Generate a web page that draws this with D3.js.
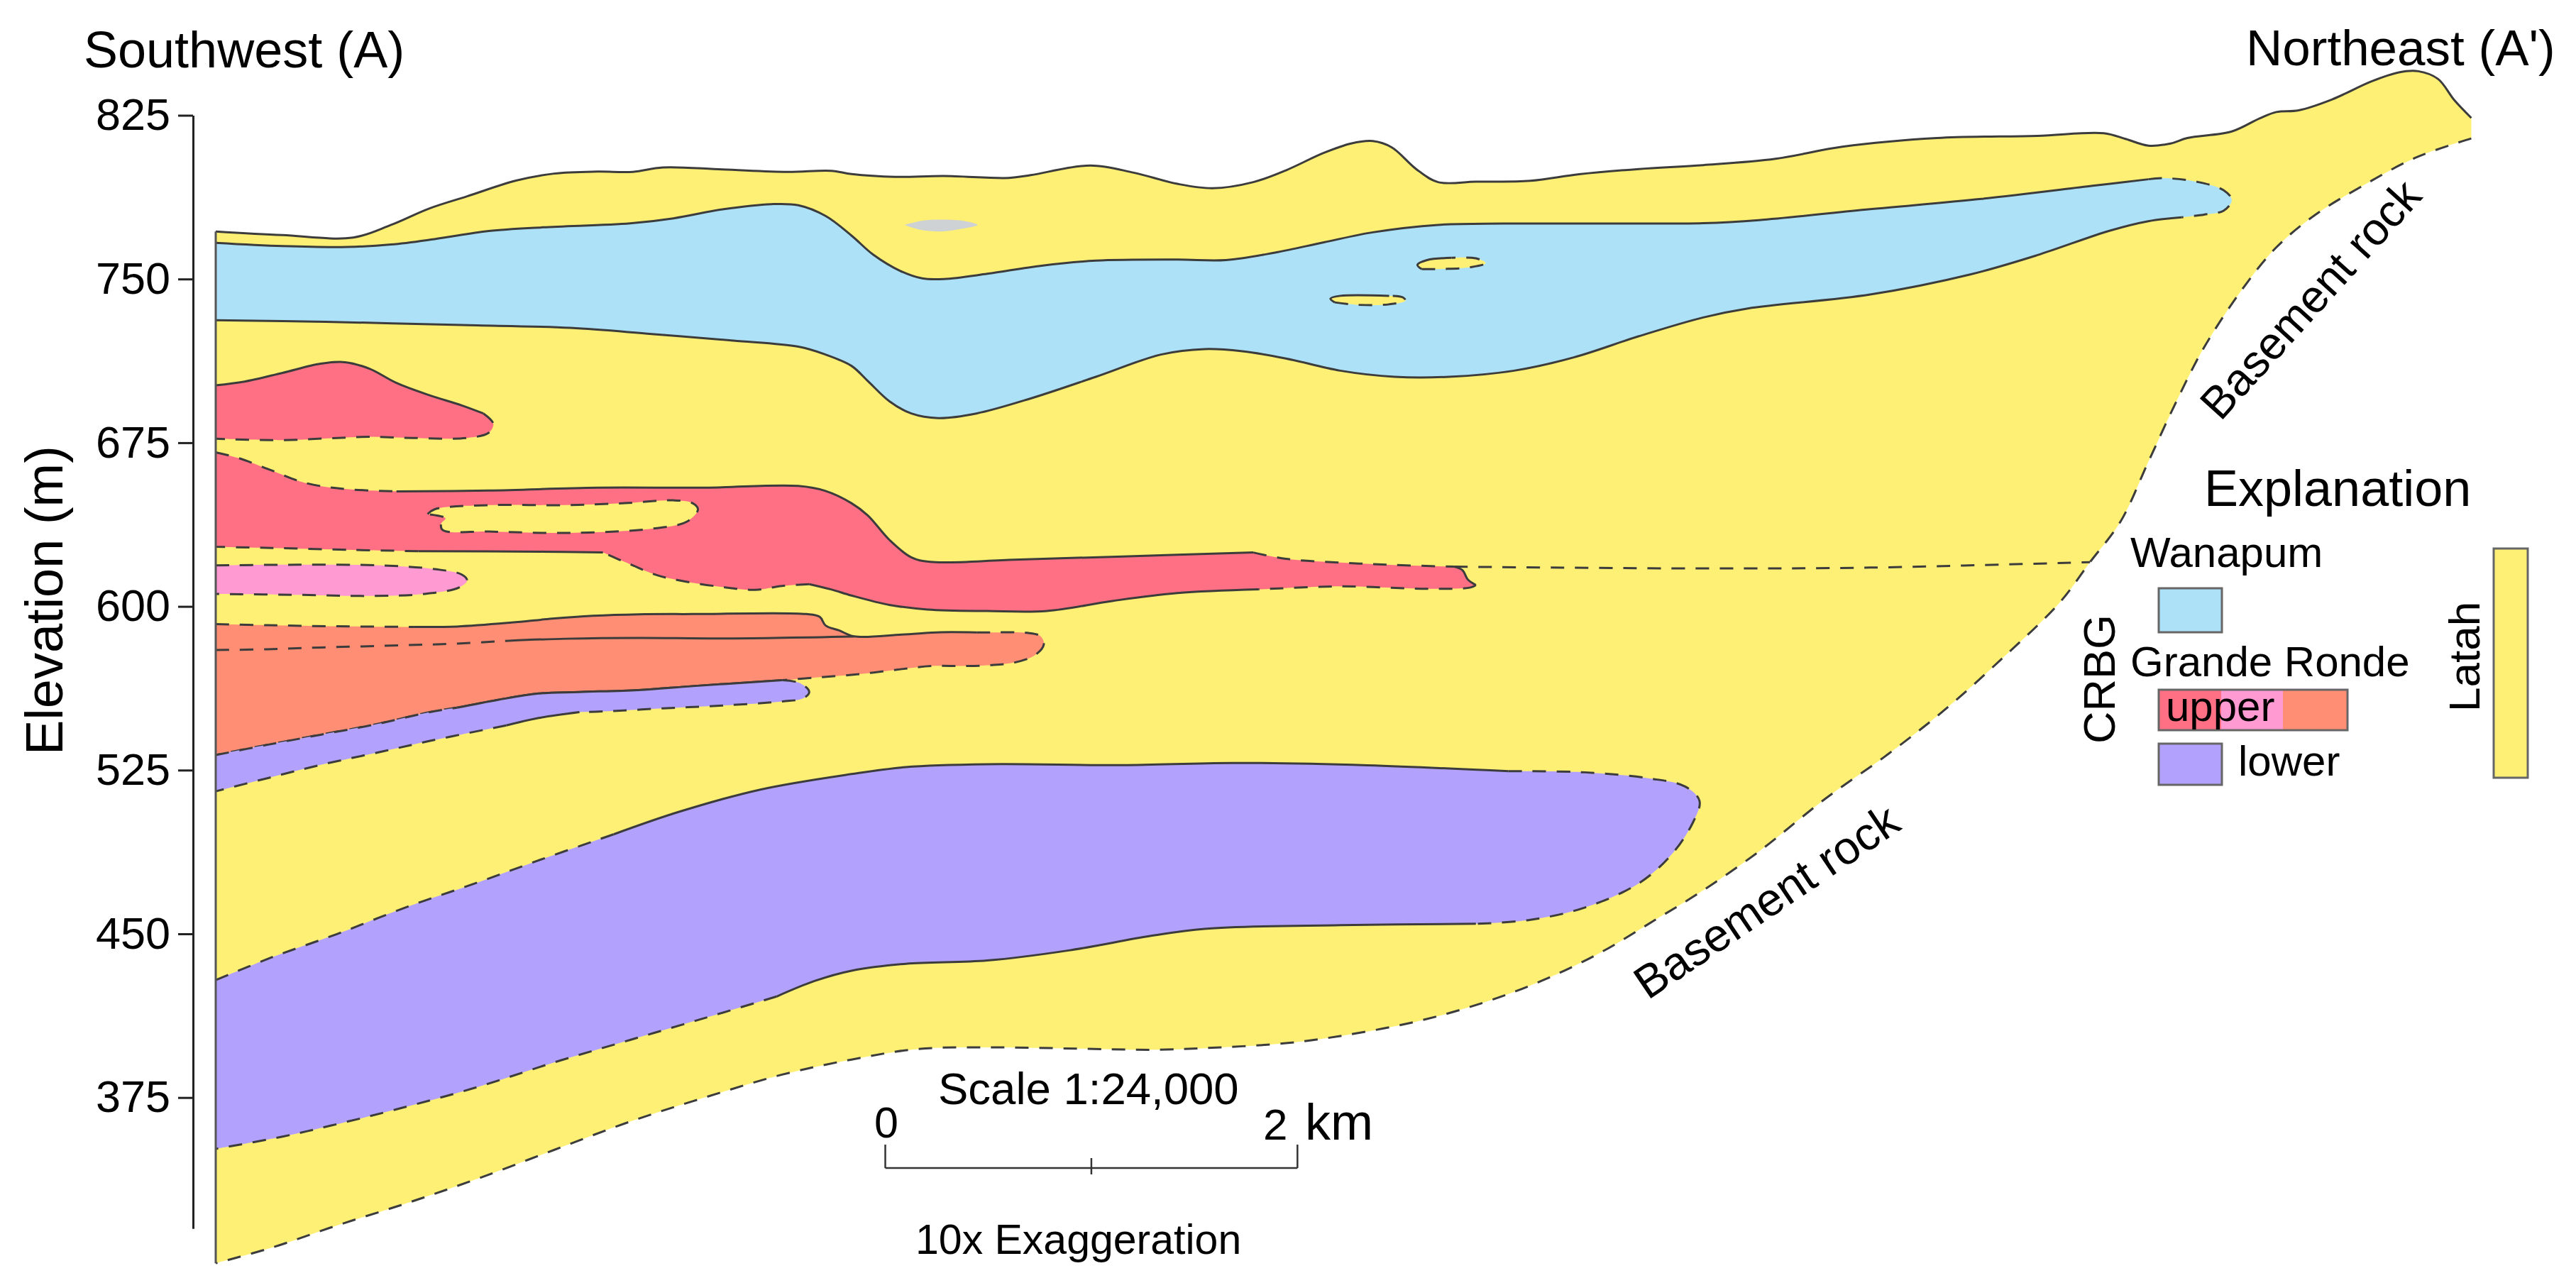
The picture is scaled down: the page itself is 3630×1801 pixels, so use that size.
<!DOCTYPE html>
<html>
<head>
<meta charset="utf-8">
<script src="https://cdn.jsdelivr.net/npm/d3@7"></script>
<style>
  html, body { margin: 0; padding: 0; background: #fff; }
  text { font-family: "Liberation Sans", Arial, sans-serif; fill: #000; }
</style>
</head>
<body>
<svg id="chart" width="3630" height="1801"></svg>
<script>
//Tick labels for elevation axis (m)
var elevationTicks = [825, 750, 675, 600, 525, 450, 375];

//All boundaries below are [distance along section in km, elevation in m]

//Ground surface
var groundSurface = [[0,771.8],[.324,770.1],[.667,769],[.851,774.8],[1.036,782.3],[1.22,787.9],[1.457,795.1],[1.642,798.3],[1.852,799.2],[2.024,799.1],[2.169,801.1],[2.459,800.2],[2.775,799.1],[2.986,799.6],[3.085,798.1],[3.296,796.8],[3.533,797.2],[3.849,796.3],[3.955,797.6],[4.244,802],[4.455,798.7],[4.666,793.6],[4.837,791.6],[5.035,794.4],[5.193,799.8],[5.377,807.8],[5.509,812.1],[5.615,813.2],[5.707,810.3],[5.825,800.4],[5.931,794.4],[6.115,794.6],[6.379,795],[6.616,798],[6.906,800.4],[7.218,802.2],[7.569,805.1],[7.893,810.6],[8.352,814.6],[8.838,815.6],[9.162,816.8],[9.27,814.1],[9.378,811.1],[9.486,812.1],[9.567,814.6],[9.783,817.6],[9.918,823.6],[9.999,826.5],[10.107,827.3],[10.27,832.3],[10.459,840.5],[10.594,844.7],[10.688,845.2],[10.783,841.7],[10.864,831.8],[10.945,823.8]];

//Basement contact, northeast end to southwest end
var basementContact = [[10.945,814.4],[10.675,805.6],[10.405,792],[10.189,779.5],[10,764.6],[9.838,745.9],[9.648,718.6],[9.513,693.7],[9.378,666.3],[9.243,638.9],[9.095,620.3],[8.946,601.6],[8.676,576.8],[8.379,551.8],[8.109,531.9],[7.812,512],[7.488,487.7],[7.217,469.9],[6.985,456.4],[6.721,441.5],[6.432,428.4],[6.142,418.2],[5.825,409.8],[5.457,403.2],[5.193,399.9],[4.877,398],[4.561,396.9],[4.192,397.4],[3.744,398],[3.401,397.2],[3.085,392.4],[2.748,385.5],[2.379,375.2],[2.011,364],[1.642,351],[1.273,337.9],[.93,326.7],[.588,316.4],[.271,306.2],[0,299.1]];

//Wanapum
var wanapumTop = [[0,766.6],[.324,765.1],[.64,764.7],[.851,765.8],[1.062,768.3],[1.325,772],[1.589,773.7],[2.011,775.5],[2.221,777.8],[2.459,781.9],[2.696,784.3],[2.827,783.8],[2.959,778.9],[3.085,769.9],[3.19,761.2],[3.322,753.7],[3.428,750.3],[3.533,750],[3.744,752.4],[4.007,756.1],[4.271,758.4],[4.666,758.9],[4.903,758.7],[5.14,762.1],[5.377,766.8],[5.615,771.4],[5.931,774.8],[6.247,775.4],[6.774,775.4],[7.218,775.6],[7.488,777],[8.028,782],[8.568,786.7],[9.108,792.7],[9.378,795.7]];
var wanapumTip = [[9.378,795.7],[9.459,796.2],[9.621,794.4],[9.743,790.7],[9.783,786.2],[9.743,781.3],[9.648,779.5],[9.54,778.3]];
var wanapumBase = [[9.54,778.3],[9.378,776.5],[9.189,772.1],[8.838,760.9],[8.514,752.1],[8.028,742.9],[7.434,736.5],[7.218,732.4],[6.906,723.8],[6.59,714.1],[6.3,708],[5.984,705.2],[5.72,705.2],[5.457,708],[5.193,713.6],[4.982,716.9],[4.798,717.9],[4.587,715.4],[4.271,705.2],[3.955,695.3],[3.691,688.4],[3.507,686.3],[3.375,688.4],[3.269,694],[3.164,703.3],[3.085,710.2],[2.959,715.4],[2.827,719],[2.511,721.8],[2.116,724.8],[1.721,727.6],[1.194,728.9],[.535,730.4],[0,731.1]];

//Small Latah lenses inside the Wanapum
var lensUpperSolid = [[5.997,759.7],[5.878,758.7],[5.831,756.5],[5.852,754.5]];
var lensUpperDash = [[5.852,754.5],[5.957,754.6],[6.089,755.4],[6.163,757.3],[6.115,759.5],[5.997,759.7]];
var lensLowerSolid = [[5.694,742.3],[5.457,742.3],[5.409,741],[5.43,739.3]];
var lensLowerDash = [[5.43,739.3],[5.536,738.2],[5.694,738.4],[5.773,740.1],[5.76,741.6],[5.694,742.3]];
var greyLens = [[3.343,774.8],[3.428,776.7],[3.52,777.2],[3.638,776.5],[3.696,774.8],[3.612,772.9],[3.52,771.8],[3.414,772.7],[3.343,774.8]];

//Upper Grande Ronde, top red unit
var redOneTop = [[0,701.3],[.14,703],[.324,707],[.509,711.2],[.627,711.9],[.746,708.9],[.877,702.4],[1.036,696.8],[1.194,692.1],[1.299,688.4]];
var redOneBase = [[1.299,688.4],[1.347,683.7],[1.325,679.6],[1.22,677.2],[.957,677.2],[.746,677.7],[.588,677.2],[.324,676.2],[0,676.8]];

//Upper Grande Ronde, second red unit
var redTwoTopDash = [[0,670.6],[.113,667.9],[.271,662.3],[.43,656.7],[.614,653.9],[.877,652.7]];
var redTwoTopSolid = [[.877,652.7],[1.325,653.1],[1.852,654.4],[2.379,654.4],[2.827,655.2],[2.959,652.9],[3.085,647.3],[3.164,641.7],[3.269,630.5],[3.375,622.5],[3.467,620.4],[3.876,621.4],[4.402,622.9],[5.035,624.7]];
var redTwoTipTop = [[5.035,624.7],[5.193,621.8],[5.457,620.1],[5.72,619],[6.01,618.2]];
var redTwoTipEnd = [[6.01,618.2],[6.05,616.6],[6.076,612.3],[6.115,609.8]];
var redTwoTipBase = [[6.115,609.8],[6.089,608.7],[5.878,608.1],[5.457,609.2],[5.061,607.8]];
var redTwoBaseSolid = [[5.061,607.8],[4.666,606.1],[4.35,602.5],[4.034,597.9],[3.744,597.9],[3.454,598.6],[3.269,600.7],[3.085,605],[2.986,607.8],[2.88,610.2]];
var redTwoBaseDash = [[2.88,610.2],[2.748,609.4],[2.617,607.6],[2.459,608.9],[2.274,611.5],[2.142,614.3],[2.011,619.3],[1.879,624.7]];
var redTwoLowerSolid = [[1.879,624.7],[1.589,625.1],[.983,625.3]];
var redTwoLowerDash = [[.983,625.3],[.667,625.9],[.271,626.8],[0,627.3]];
var redTwoLens = [[1.028,642.3],[1.062,644.5],[1.325,646.4],[1.694,646.4],[1.984,647.3],[2.221,648.6],[2.314,647.3],[2.34,644.5],[2.287,638.9],[2.116,635.6],[1.721,633.7],[1.325,634.3],[1.101,635],[1.094,638],[1.115,640.4],[1.028,642.3]];

//Upper Grande Ronde, pink lens
var pinkLens = [[0,618.8],[.403,619.1],[.798,618.8],[1.062,617.1],[1.194,614.6],[1.22,611.9],[1.181,608.7],[1.009,605.7],[.746,604.8],[.403,605.3],[0,605.7]];

//Upper Grande Ronde, salmon unit
var salmonTopDash = [[0,591.9],[.25,591.4],[.579,590.9],[.961,590.6]];
var salmonTopSolid = [[.961,590.6],[1.172,590.8],[1.436,592.6],[1.633,594.4],[1.831,595.7],[2.052,596.4],[2.315,596.5],[2.866,596.5],[2.931,595.2],[2.96,591.2],[3.025,589],[3.097,586.3],[3.329,587.1],[3.518,588.2],[3.692,588.1]];
var salmonTip = [[3.692,588.1],[3.764,588.1],[3.938,587.9],[4.003,586.3],[4.018,582.5],[3.974,577.6],[3.88,574.4],[3.764,573.1],[3.619,572.7],[3.474,572.7],[3.329,571.3],[3.112,568.9],[2.894,567.3],[2.75,566.2]];
var salmonInnerDash = [[0,580],[.25,580.4],[.513,581.2],[.908,582.2],[1.172,583],[1.422,584.3]];
var salmonInnerSolid = [[1.422,584.3],[1.699,585.2],[2.052,585.6],[2.46,585.3],[3.097,586.2]];

//Lower Grande Ronde, thin unit
var lowerThinTopSolid = [[2.75,566.2],[2.315,563.5],[2.052,561.7],[1.765,560.8],[1.567,560.1],[1.37,557.2],[1.172,553.6]];
var lowerThinTopDash = [[1.172,553.6],[1.04,551.6],[.777,546],[.513,541.3],[.25,536.6],[0,531.9]];
var lowerThinTip = [[2.75,566.2],[2.837,564.8],[2.88,560.8],[2.851,557.9],[2.75,556.5],[2.46,554.6],[2.17,553.3],[1.88,551.9],[1.765,551.6]];
var lowerThinBaseSolid = [[1.765,551.6],[1.567,548.9],[1.41,545.5]];
var lowerThinBaseDash = [[1.41,545.5],[1.304,543.5],[1.04,538.4],[.816,533.7],[.513,527.5],[.25,521.3],[0,515.3]];

//Lower Grande Ronde, large unit
var lowerBigTopDash = [[0,428.8],[.271,439.2],[.588,449.9],[.93,462.4],[1.273,473.6],[1.589,484.4],[1.931,495.6]];
var lowerBigTopSolid = [[1.931,495.6],[2.248,505.9],[2.643,516.1],[3.085,523.2],[3.349,526.4],[3.744,527.7],[4.402,527.3],[4.93,528.3],[5.588,527.2],[6.273,524.5]];
var lowerBigTip = [[6.273,524.5],[6.642,524],[6.958,521.2],[7.13,517.5],[7.2,510.9],[7.169,501.2],[7.064,486.3],[6.906,473.2],[6.642,462],[6.379,456.4],[6.115,454.6]];
var lowerBigBaseSolid = [[6.115,454.6],[5.457,454],[4.798,452.3],[4.534,449],[4.139,442.4],[3.744,437.8],[3.349,436.3],[3.085,433.1],[2.906,428.4],[2.722,421.3]];
var lowerBigBaseDash = [[2.722,421.3],[2.379,411.6],[2.011,401.4],[1.642,391.1],[1.273,379.9],[.877,369.6],[.561,362.2],[.324,357.1],[0,351.5]];

//Dashed line from end of red unit to the basement
var contactLine = [[6.01,618.2],[7.218,617.4],[8.028,617.8],[9.095,620.3]];

//Scale bar stops in km
var scaleBarStops = [3.249, 4.249, 5.249];

var LATAH = "#fdf074", WANAPUM = "#ade1f7", RED = "#ff7085", PINK = "#ff9ad2", SALMON = "#ff8e75", LOWER = "#b3a2fd", GREY = "#cfd2d4";
var LINE = "#3c3c3c";

var svg = d3.select("#chart");

var x = d3.scaleLinear().domain([0, 11]).range([304, 304 + 11 * 290.4]);
var y = d3.scaleLinear().domain([825, 315]).range([162.5, 162.5 + 510 * 3.076]);

var line = d3.line().x(d => x(d[0])).y(d => y(d[1])).curve(d3.curveCatmullRom);

// units are drawn in this order, each part is [boundary, "solid" or "dash" or null]
var units = [
  { fill: LATAH, parts: [[groundSurface, "solid"], [basementContact, "dash"]] },
  { fill: WANAPUM, parts: [[wanapumTop, "solid"], [wanapumTip, "dash"], [wanapumBase, "solid"]] },
  { fill: LATAH, parts: [[lensUpperSolid, "solid"], [lensUpperDash, "dash"]] },
  { fill: LATAH, parts: [[lensLowerSolid, "solid"], [lensLowerDash, "dash"]] },
  { fill: GREY, parts: [[greyLens, null]] },
  { fill: RED, parts: [[redOneTop, "solid"], [redOneBase, "dash"]] },
  { fill: RED, parts: [[redTwoTopDash, "dash"], [redTwoTopSolid, "solid"], [redTwoTipTop, "dash"], [redTwoTipEnd, "solid"], [redTwoTipBase, "dash"], [redTwoBaseSolid, "solid"], [redTwoBaseDash, "dash"], [redTwoLowerSolid, "solid"], [redTwoLowerDash, "dash"]] },
  { fill: LATAH, parts: [[redTwoLens, "dash"]] },
  { fill: PINK, parts: [[pinkLens, "dash"]] },
  { fill: SALMON, parts: [[salmonTopDash, "dash"], [salmonTopSolid, "solid"], [salmonTip, "dash"], [lowerThinTopSolid, "solid"], [lowerThinTopDash, "dash"]] },
  { fill: LOWER, parts: [[lowerThinTopDash.slice().reverse(), "dash"], [lowerThinTopSolid.slice().reverse(), "solid"], [lowerThinTip, "dash"], [lowerThinBaseSolid, "solid"], [lowerThinBaseDash, "dash"]] },
  { fill: LOWER, parts: [[lowerBigTopDash, "dash"], [lowerBigTopSolid, "solid"], [lowerBigTip, "dash"], [lowerBigBaseSolid, "solid"], [lowerBigBaseDash, "dash"]] }
];

function drawBoundary(pts, style) {
  svg.append("path")
    .attr("d", line(pts))
    .attr("fill", "none")
    .attr("stroke", LINE)
    .attr("stroke-width", 3)
    .attr("stroke-dasharray", style == "dash" ? "19,15" : null);
}

units.forEach(function (unit) {
  // curves are joined so the fill follows the same lines as the strokes
  var d = unit.parts.map(p => line(p[0])).join("").replace(/M/g, "L").replace(/^L/, "M") + "Z";
  svg.append("path").attr("d", d).attr("fill", unit.fill);
  unit.parts.forEach(function (p) {
    if (p[1]) drawBoundary(p[0], p[1]);
  });
});

drawBoundary(salmonInnerDash, "dash");
drawBoundary(salmonInnerSolid, "solid");
drawBoundary(contactLine, "dash");

//Left edge of the section
svg.append("line")
  .attr("x1", x(0)).attr("x2", x(0))
  .attr("y1", y(771.8)).attr("y2", y(299.1))
  .attr("stroke", "#555").attr("stroke-width", 3);

//Elevation axis
var yAxis = d3.axisLeft(y).tickValues(elevationTicks).tickSizeInner(21).tickSizeOuter(0).tickPadding(11);
var axisG = svg.append("g").attr("transform", "translate(272,0)").call(yAxis);
axisG.selectAll("path, line").attr("stroke", "#222").attr("stroke-width", 3);
axisG.selectAll("text").style("font-size", "63px").style("font-family", '"Liberation Sans"');

function label(txt, px, py, size, rotate, anchor) {
  return svg.append("text")
    .attr("transform", "translate(" + px + "," + py + ")" + (rotate ? " rotate(" + rotate + ")" : ""))
    .attr("text-anchor", anchor || "start")
    .style("font-size", size + "px")
    .text(txt);
}

label("Southwest (A)", 118, 95, 72);
label("Northeast (A')", 3165, 92, 71);
label("Elevation (m)", 88, 1064, 74, -90);
label("Basement rock", 2322, 1410, 65, -34);
label("Basement rock", 3129, 595, 64, -47.9);

//Scale bar
label("Scale 1:24,000", 1322, 1556, 63.5);
label("0", 1232, 1603, 61);
var twoKm = label("2", 1780, 1606, 62);
twoKm.append("tspan").attr("x", 0).attr("dx", 59).style("font-size", "72px").text("km");
label("10x Exaggeration", 1290, 1767, 59);

var barG = svg.append("g").attr("fill", "none").attr("stroke", "#333").attr("stroke-width", 2.5);
barG.append("line").attr("x1", x(scaleBarStops[0])).attr("x2", x(scaleBarStops[2])).attr("y1", 1646).attr("y2", 1646);
barG.selectAll("line.stop").data(scaleBarStops).join("line").attr("class", "stop")
  .attr("x1", d => x(d)).attr("x2", d => x(d))
  .attr("y1", (d, i) => i == 1 ? 1632 : 1613).attr("y2", (d, i) => i == 1 ? 1655 : 1646);

//Explanation
var legendRects = [
  { px: 3042, py: 829, w: 89, h: 62, fill: WANAPUM },
  { px: 3042, py: 972, w: 88, h: 57, fill: RED },
  { px: 3130, py: 972, w: 87, h: 57, fill: PINK },
  { px: 3217, py: 972, w: 91, h: 57, fill: SALMON },
  { px: 3042, py: 1048, w: 89, h: 58, fill: LOWER },
  { px: 3514, py: 773, w: 48, h: 323, fill: LATAH }
];
svg.selectAll("rect.legend").data(legendRects).join("rect").attr("class", "legend")
  .attr("x", d => d.px).attr("y", d => d.py).attr("width", d => d.w).attr("height", d => d.h)
  .attr("fill", d => d.fill);
// outlines sit on top of the colour blocks
var legendOutlines = [[3042, 829, 89, 62], [3042, 972, 266, 57], [3042, 1048, 89, 58], [3514, 773, 48, 323]];
legendOutlines.forEach(function (r) {
  svg.append("rect").attr("x", r[0]).attr("y", r[1]).attr("width", r[2]).attr("height", r[3])
    .attr("fill", "none").attr("stroke", "#666").attr("stroke-width", 3);
});

label("Explanation", 3106, 713, 72);
label("Wanapum", 3002, 799, 60);
label("Grande Ronde", 3002, 953, 60);
label("upper", 3052, 1016, 60);
label("lower", 3154, 1093, 60);
label("CRBG", 2980, 1048, 63, -90);
label("Latah", 3494, 1003, 62, -90);
</script>
</body>
</html>
